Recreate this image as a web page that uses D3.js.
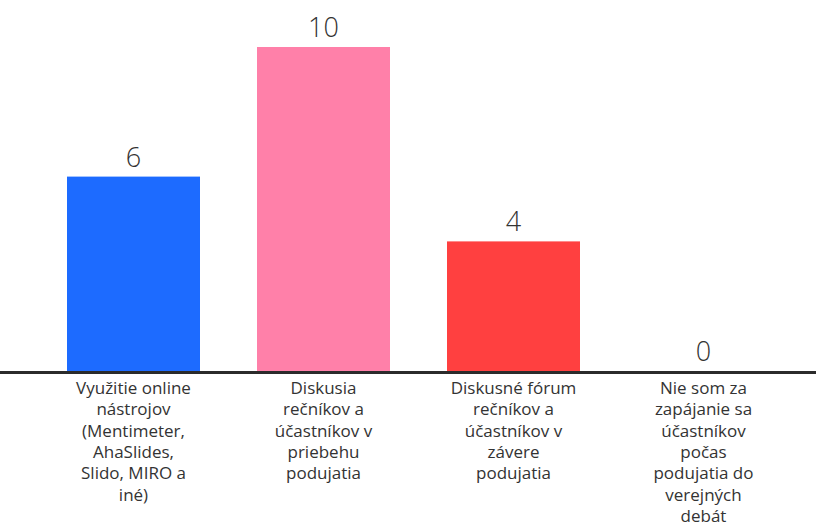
<!DOCTYPE html>
<html>
<head>
<meta charset="utf-8">
<script src="https://cdn.jsdelivr.net/npm/d3@7"></script>
<style>
  html, body { margin: 0; padding: 0; background: #fff; }
  text { font-family: "Open Sans", sans-serif; fill: #333; }
</style>
</head>
<body>
<div id="chart"></div>
<script>
// chart size
var WIDTH = 816, HEIGHT = 525;

// data
var categories = ["online", "priebeh", "zaver", "nie"];
var values = [6, 10, 4, 0];
var colors = ["#1D6BFF", "#FF80A9", "#FF4040", "#9E9E9E"];
var tickLabels = [
    ["Využitie online", "nástrojov", "(Mentimeter,", "AhaSlides,", "Slido, MIRO a", "iné)"],
    ["Diskusia", "rečníkov a", "účastníkov v", "priebehu", "podujatia"],
    ["Diskusné fórum", "rečníkov a", "účastníkov v", "závere", "podujatia"],
    ["Nie som za", "zapájanie sa", "účastníkov", "počas", "podujatia do", "verejných", "debát"]
];

var BASE_Y = 371;

var svg = d3.select("#chart").append("svg")
    .attr("width", WIDTH)
    .attr("height", HEIGHT);

var x = d3.scaleBand()
    .domain(categories)
    .range([38.5, 798.5])
    .paddingInner(0.3)
    .paddingOuter(0.15);

var y = d3.scaleLinear()
    .domain([0, 10])
    .range([BASE_Y, 47]);

// bars
svg.append("g").selectAll("rect")
    .data(values)
    .join("rect")
    .attr("x", function(d, i) { return x(categories[i]); })
    .attr("y", function(d) { return y(d); })
    .attr("width", x.bandwidth())
    .attr("height", function(d) { return y(0) - y(d); })
    .attr("fill", function(d, i) { return colors[i]; });

// value labels
svg.append("g").selectAll("text")
    .data(values)
    .join("text")
    .attr("x", function(d, i) { return x(categories[i]) + x.bandwidth() / 2; })
    .attr("y", function(d) { return y(d) - 10; })
    .attr("text-anchor", "middle")
    .style("font-size", "27px")
    .style("font-weight", 300)
    .text(function(d) { return d; });

// baseline
svg.append("line")
    .attr("x1", 0).attr("x2", WIDTH)
    .attr("y1", BASE_Y + 1.5).attr("y2", BASE_Y + 1.5)
    .attr("stroke", "#2b2b2b")
    .attr("stroke-width", 3);

// category labels
var labels = svg.append("g").selectAll("text")
    .data(tickLabels)
    .join("text")
    .attr("text-anchor", "middle")
    .style("font-size", "17px");

labels.each(function(lines, i) {
    var cx = x(categories[i]) + x.bandwidth() / 2;
    d3.select(this).selectAll("tspan")
        .data(lines)
        .join("tspan")
        .attr("x", cx)
        .attr("y", function(d, k) { return BASE_Y + 23 + k * 21.3; })
        .text(function(d) { return d; });
});
</script>
</body>
</html>
